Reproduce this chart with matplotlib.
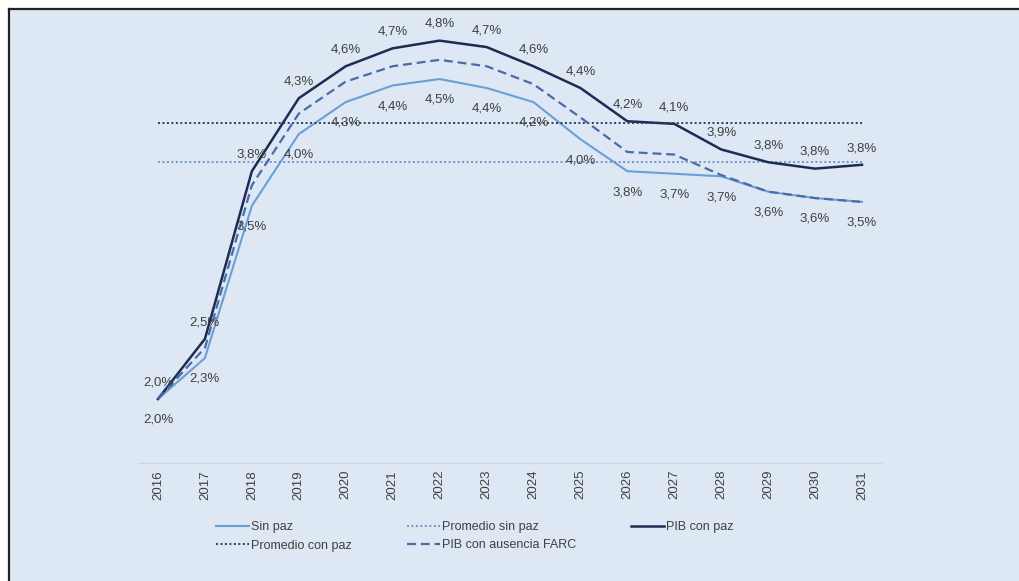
import matplotlib.pyplot as plt
from matplotlib.lines import Line2D
from matplotlib.patches import Rectangle

years = [str(y) for y in range(2016, 2032)]

# values (line positions)
sin_paz = [2.00, 2.32, 3.51, 4.07, 4.32, 4.45, 4.50, 4.43, 4.32, 4.03, 3.78, 3.76, 3.74, 3.62, 3.57, 3.54]
con_paz = [2.00, 2.47, 3.78, 4.35, 4.60, 4.74, 4.80, 4.75, 4.60, 4.43, 4.17, 4.15, 3.95, 3.85, 3.80, 3.83]
ausencia_farc = [2.00, 2.40, 3.67, 4.23, 4.48, 4.60, 4.65, 4.60, 4.46, 4.20, 3.93, 3.91, 3.75, 3.62, 3.57, 3.54]
prom_sin_paz = 3.85
prom_con_paz = 4.16

# data labels as printed on the chart
sin_paz_lbl = [2.0, 2.3, 3.5, 4.0, 4.3, 4.4, 4.5, 4.4, 4.2, 4.0, 3.8, 3.7, 3.7, 3.6, 3.6, 3.5]
con_paz_lbl = [2.0, 2.5, 3.8, 4.3, 4.6, 4.7, 4.8, 4.7, 4.6, 4.4, 4.2, 4.1, 3.9, 3.8, 3.8, 3.8]

BG = '#dde8f4'
C_SIN = '#6a9fd6'
C_CON = '#1e2b52'
C_FARC = '#4a6ba8'
C_PSIN = '#7396c2'
C_PCON = '#2c3b5e'
TXT = '#404040'

plt.rcParams['font.family'] = ['Liberation Sans', 'DejaVu Sans']

fig = plt.figure(figsize=(10.2, 5.81), dpi=100, facecolor=BG)

# white margin + dark frame at top/left
fig.patches.append(Rectangle((0, 1 - 8 / 581), 1, 8 / 581, transform=fig.transFigure, color='white', zorder=0))
fig.patches.append(Rectangle((0, 0), 9 / 1020, 1, transform=fig.transFigure, color='white', zorder=0))
fig.lines.append(Line2D([9 / 1020, 1], [1 - 9 / 581] * 2, transform=fig.transFigure, color='#222222', lw=1.6))
fig.lines.append(Line2D([9.5 / 1020] * 2, [0, 1 - 9 / 581], transform=fig.transFigure, color='#222222', lw=1.6))

ax = fig.add_axes([0.1365, 0.2031, 0.727, 0.771])
ax.set_facecolor(BG)
x = list(range(len(years)))

l_sin, = ax.plot(x, sin_paz, color=C_SIN, lw=1.5, label='Sin paz')
l_psin, = ax.plot(x, [prom_sin_paz] * len(x), color=C_PSIN, lw=1.4, ls=(0, (1, 1.3)), label='Promedio sin paz')
l_con, = ax.plot(x, con_paz, color=C_CON, lw=1.8, label='PIB con paz')
l_pcon, = ax.plot(x, [prom_con_paz] * len(x), color=C_PCON, lw=1.4, ls=(0, (1, 1.3)), label='Promedio con paz')
l_farc, = ax.plot(x, ausencia_farc, color=C_FARC, lw=1.6, ls=(0, (4, 2.2)), label='PIB con ausencia FARC')

for i in x:
    ax.annotate(f"{con_paz_lbl[i]:.1f}%".replace('.', ','), (i, con_paz[i]), xytext=(0, 12),
                textcoords='offset points', ha='center', va='center', fontsize=9.5, color=TXT)
    ax.annotate(f"{sin_paz_lbl[i]:.1f}%".replace('.', ','), (i, sin_paz[i]), xytext=(0, -15),
                textcoords='offset points', ha='center', va='center', fontsize=9.5, color=TXT)

ax.set_xlim(-0.4, 15.4)
ax.set_ylim(1.5, 5.0)
ax.set_xticks(x)
ax.set_xticklabels(years, rotation=90, fontsize=9.5, color=TXT)
ax.tick_params(axis='x', length=0, pad=5)
ax.set_yticks([])
for s in ['top', 'right', 'left']:
    ax.spines[s].set_visible(False)
ax.spines['bottom'].set_color('#cbd5e0')
ax.spines['bottom'].set_linewidth(1.0)

handles = [l_sin, l_pcon, l_psin, l_farc, l_con]
fig.legend(handles=handles, labels=[h.get_label() for h in handles], ncol=3, loc='upper left',
           bbox_to_anchor=(205 / 1020, 1 - 510 / 581), frameon=False, fontsize=9,
           handlelength=2.6, handletextpad=0.2, columnspacing=4.4, labelspacing=0.5,
           labelcolor=TXT)

fig.savefig('out.png', dpi=100, facecolor=BG)
